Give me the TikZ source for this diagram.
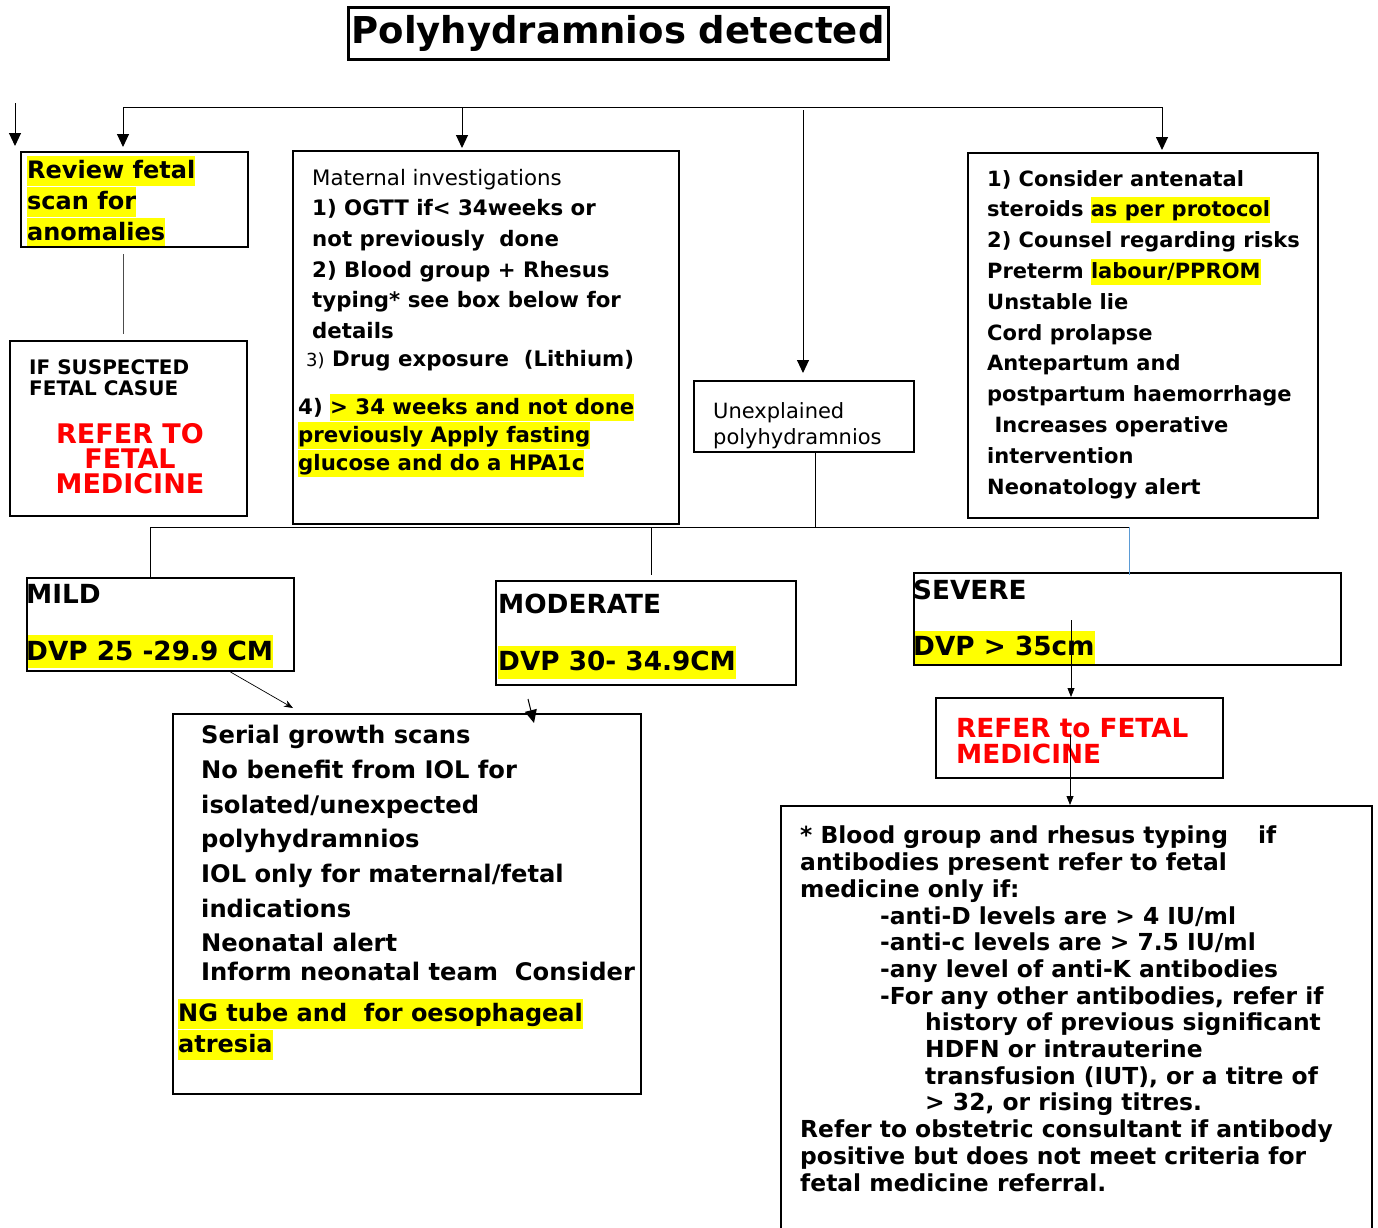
\documentclass[tikz,border=0pt]{standalone}
\usepackage{fontspec}
\setmainfont{DejaVu Sans}
\usetikzlibrary{arrows.meta, positioning}
\usepackage{xcolor}
\definecolor{hlfill}{HTML}{FFFF00}
\definecolor{refstr}{HTML}{FF0000}
\definecolor{linkblue}{HTML}{5B9BD5}
\newcommand\hlite[1]{\setbox0\hbox{#1}\rlap{\smash{\color{hlfill}\rule[-0.3em]{\wd0}{1.25em}}}\box0}
\newcommand\fs[2]{\fontsize{#1}{#2}\selectfont}
\tikzset{
  box/.style     ={rectangle, draw, line width=2pt, anchor=north west, inner sep=0pt},
  txt/.style     ={anchor=north west, inner sep=0pt, align=left},
  flow/.style    ={-{Triangle[length=13pt, width=12pt]}, line width=1pt},
  small/.style   ={-{Triangle[length=9pt, width=7pt]}, line width=0.8pt},
  thin/.style    ={-{Stealth[length=9pt, width=7pt]}, line width=0.7pt},
  link/.style    ={line width=1pt},
}

\begin{document}
\begin{tikzpicture}[x=1pt, y=-1pt]
    \useasboundingbox (0,0) rectangle (1378,1227);
    \node[draw, line width=3pt, minimum width=540pt, minimum height=52pt,
          font=\bfseries\fs{37}{40}] (title) at (618,33) {Polyhydramnios detected};
    % texts
    \node[txt, font=\bfseries\fs{24}{31}] (rvT) at (27,160)
        {\hlite{Review fetal}\\\hlite{scan for}\\\hlite{anomalies}};
    \node[txt, font=\bfseries\fs{20}{21}] (suspT) at (29,359) {IF SUSPECTED\\FETAL CASUE};
    \node[txt, anchor=north, align=center, text=refstr, font=\bfseries\fs{27}{25}] (suspR) at (130,423)
        {REFER TO\\FETAL\\MEDICINE};
    \node[txt, font=\bfseries\fs{21.3}{30.6}] (matA) at (312,169)
        {{\mdseries Maternal investigations}\\1) OGTT if< 34weeks or\\not previously\ \ done\\
         2) Blood group + Rhesus\\typing* see box below for\\details};
    \node[txt, font=\bfseries\fs{21.3}{28}] (matB) at (306,350)
        {{\mdseries\fs{18}{28}3)} Drug exposure\ \ (Lithium)};
    \node[txt, font=\bfseries\fs{21.3}{28}] (matC) at (298,398)
        {4) \hlite{> 34 weeks and not done}\\\hlite{previously Apply fasting}\\\hlite{glucose and do a HPA1c}};
    \node[txt, font=\fs{21}{26}] (unexT) at (713,402) {Unexplained\\polyhydramnios};
    \node[txt, font=\bfseries\fs{21}{30.8}] (riskT) at (987,170)
        {1) Consider antenatal\\steroids \hlite{as per protocol}\\2) Counsel regarding risks\\
         Preterm \hlite{labour/PPROM}\\Unstable lie\\Cord prolapse\\Antepartum and\\
         postpartum haemorrhage\\\ Increases operative\\intervention\\Neonatology alert};
    \node[txt, font=\bfseries\fs{26.3}{57}] (mildT) at (26,584) {MILD\\\hlite{DVP 25 -29.9 CM}};
    \node[txt, font=\bfseries\fs{26.3}{57}] (modT) at (498,594) {MODERATE\\\hlite{DVP 30- 34.9CM}};
    \node[txt, font=\bfseries\fs{26.3}{56}] (sevT) at (913,580) {SEVERE\\\hlite{DVP > 35cm}};
    \node[txt, text=refstr, font=\bfseries\fs{26.3}{26}] (referT) at (956,718) {REFER to FETAL\\MEDICINE};
    \node[txt, font=\bfseries\fs{24.2}{34.7}] (serialA) at (201,725)
        {Serial growth scans\\No benefit from IOL for\\isolated/unexpected\\polyhydramnios\\
         IOL only for maternal/fetal\\indications\\Neonatal alert\\[-6pt]Inform neonatal team\ \ Consider};
    \node[txt, font=\bfseries\fs{24}{31}] (serialB) at (178,1003)
        {\hlite{NG tube and\ \ for oesophageal}\\\hlite{atresia}};
    \node[txt, font=\bfseries\fs{23.4}{26.7}] (antiT) at (800,826)
        {* Blood group and rhesus typing\hspace{30pt}if\\antibodies present refer to fetal\\medicine only if:\\
         \hspace*{80pt}-anti-D levels are > 4 IU/ml\\\hspace*{80pt}-anti-c levels are > 7.5 IU/ml\\
         \hspace*{80pt}-any level of anti-K antibodies\\\hspace*{80pt}-For any other antibodies, refer if\\
         \hspace*{125pt}history of previous significant\\\hspace*{125pt}HDFN or intrauterine\\
         \hspace*{125pt}transfusion (IUT), or a titre of\\\hspace*{125pt}> 32, or rising titres.\\
         Refer to obstetric consultant if antibody\\positive but does not meet criteria for\\fetal medicine referral.};
    % boxes
    \node[box, minimum width=227pt, minimum height=95pt] (rv) at (20,151) {};
    \node[box, minimum width=237pt, minimum height=175pt] (susp) at (9,340) {};
    \node[box, minimum width=386pt, minimum height=373pt] (mat) at (292,150) {};
    \node[box, minimum width=220pt, minimum height=71pt] (unex) at (693,380) {};
    \node[box, minimum width=350pt, minimum height=365pt] (risk) at (967,152) {};
    \node[box, minimum width=267pt, minimum height=93pt] (mild) at (26,577) {};
    \node[box, minimum width=300pt, minimum height=104pt] (mod) at (495,580) {};
    \node[box, minimum width=427pt, minimum height=92pt] (sev) at (913,572) {};
    \node[box, minimum width=287pt, minimum height=80pt] (refer) at (935,697) {};
    \node[box, minimum width=468pt, minimum height=380pt] (serial) at (172,713) {};
    \node[box, minimum width=591pt, minimum height=440pt] (anti) at (780,805) {};
    % top connectors
    \coordinate (busL) at (123,107);
    \coordinate (busR) at (1163,107);
    \coordinate (bMat) at (462,107);
    \coordinate (bUnex) at (803,107);
    \coordinate (bRisk) at (1162,107);
    \coordinate (strayA) at (15,103);
    \coordinate (strayB) at (15,146);
    \draw[link] (busL) -- (busR);
    \draw[flow] (strayA) -- (strayB);
    \draw[flow, shorten >=4pt] (busL) -- (busL |- rv.north);
    \draw[flow, shorten >=2pt] (bMat) -- (bMat |- mat.north);
    \draw[flow, shorten <=3pt, shorten >=7pt] (bUnex) -- (bUnex |- unex.north);
    \draw[flow, shorten >=2pt] (bRisk) -- (bRisk |- risk.north);
    \draw[link, black!70, shorten <=6pt, shorten >=6pt] (busL |- rv.south) -- (busL |- susp.north);
    % bottom connectors
    \coordinate (jn) at (815,527);
    \coordinate (bus2L) at (150,527);
    \coordinate (bus2R) at (1129,527);
    \coordinate (bMod) at (651,527);
    \draw[link] (jn |- unex.south) -- (jn);
    \draw[link] (bus2L) -- (bus2R);
    \draw[link] (bus2L) -- (bus2L |- mild.north);
    \draw[link, shorten >=5pt] (bMod) -- (bMod |- mod.north);
    \draw[link, linkblue] (bus2R) -- ([yshift=-3pt]bus2R |- sev.north);
    \draw[thin] ([xshift=70pt]mild.south) -- ([xshift=-114pt, yshift=5pt]serial.north);
    \draw[flow] ([xshift=-118pt, yshift=-13pt]mod.south) -- ([xshift=127pt, yshift=-10pt]serial.north);
    \coordinate (sevOut) at ([xshift=-56.5pt, yshift=46pt]sev.south);
    \coordinate (refOut) at ([xshift=-9.5pt, yshift=44pt]refer.south);
    \draw[small] (sevOut) -- (sevOut |- refer.north);
    \draw[small] (refOut) -- (refOut |- anti.north);
\end{tikzpicture}
\end{document}
